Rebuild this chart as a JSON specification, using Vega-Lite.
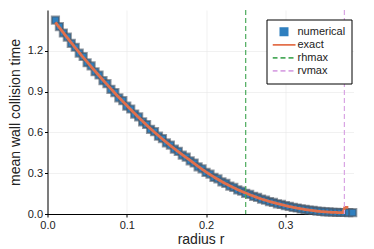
{
  "$schema": "https://vega.github.io/schema/vega-lite/v6.json",
  "width": 306,
  "height": 204,
  "autosize": {"type": "none"},
  "padding": {"left": 47.5, "top": 10, "right": 20.5, "bottom": 35},
  "background": "white",
  "config": {
    "view": {"stroke": null},
    "font": "Liberation Sans",
    "axis": {
      "domainColor": "black", "domainWidth": 1, "tickColor": "black", "tickSize": 3,
      "gridColor": "#e8e8e8", "gridWidth": 0.6, "labelFlush": false,
      "labelFont": "Liberation Sans", "labelFontSize": 11, "labelColor": "#222",
      "titleFont": "Liberation Sans", "titleFontSize": 14, "titleFontWeight": "normal", "titleColor": "#222"
    }
  },
  "datasets": {
    "num": [
      {"r":0.010,"t":1.425},{"r":0.015,"t":1.378},{"r":0.020,"t":1.331},{"r":0.025,"t":1.301},{"r":0.030,"t":1.255},
      {"r":0.035,"t":1.226},{"r":0.040,"t":1.183},{"r":0.045,"t":1.158},{"r":0.050,"t":1.112},{"r":0.055,"t":1.089},
      {"r":0.060,"t":1.046},{"r":0.065,"t":1.022},{"r":0.070,"t":0.980},{"r":0.075,"t":0.958},{"r":0.080,"t":0.917},
      {"r":0.085,"t":0.893},{"r":0.090,"t":0.854},{"r":0.095,"t":0.833},{"r":0.100,"t":0.793},{"r":0.105,"t":0.772},
      {"r":0.110,"t":0.735},{"r":0.115,"t":0.714},{"r":0.120,"t":0.678},{"r":0.125,"t":0.658},{"r":0.130,"t":0.623},
      {"r":0.135,"t":0.605},{"r":0.140,"t":0.572},{"r":0.145,"t":0.555},{"r":0.150,"t":0.523},{"r":0.155,"t":0.507},
      {"r":0.160,"t":0.477},{"r":0.165,"t":0.461},{"r":0.170,"t":0.433},{"r":0.175,"t":0.418},{"r":0.180,"t":0.391},
      {"r":0.185,"t":0.375},{"r":0.190,"t":0.347},{"r":0.195,"t":0.332},{"r":0.200,"t":0.306},{"r":0.205,"t":0.293},
      {"r":0.210,"t":0.269},{"r":0.215,"t":0.258},{"r":0.220,"t":0.236},{"r":0.225,"t":0.225},{"r":0.230,"t":0.205},
      {"r":0.235,"t":0.195},{"r":0.240,"t":0.177},{"r":0.245,"t":0.168},{"r":0.250,"t":0.152},{"r":0.255,"t":0.144},
      {"r":0.260,"t":0.130},{"r":0.265,"t":0.122},{"r":0.270,"t":0.109},{"r":0.275,"t":0.102},{"r":0.280,"t":0.091},
      {"r":0.285,"t":0.085},{"r":0.290,"t":0.075},{"r":0.295,"t":0.070},{"r":0.300,"t":0.061},{"r":0.305,"t":0.056},
      {"r":0.310,"t":0.048},{"r":0.315,"t":0.044},{"r":0.320,"t":0.037},{"r":0.325,"t":0.034},{"r":0.330,"t":0.028},
      {"r":0.335,"t":0.026},{"r":0.340,"t":0.021},{"r":0.345,"t":0.019},{"r":0.350,"t":0.016},{"r":0.355,"t":0.015},
      {"r":0.360,"t":0.013},{"r":0.365,"t":0.012},{"r":0.370,"t":0.011},{"r":0.375,"t":0.011},{"r":0.380,"t":0.010},
      {"r":0.385,"t":0.010}
    ],
    "exact": [
      {"r":0.010,"t":1.409},{"r":0.015,"t":1.371},{"r":0.020,"t":1.333},{"r":0.025,"t":1.296},{"r":0.030,"t":1.259},
      {"r":0.035,"t":1.223},{"r":0.040,"t":1.187},{"r":0.045,"t":1.152},{"r":0.050,"t":1.118},{"r":0.055,"t":1.084},
      {"r":0.060,"t":1.051},{"r":0.065,"t":1.018},{"r":0.070,"t":0.985},{"r":0.075,"t":0.953},{"r":0.080,"t":0.921},
      {"r":0.085,"t":0.889},{"r":0.090,"t":0.858},{"r":0.095,"t":0.828},{"r":0.100,"t":0.798},{"r":0.105,"t":0.768},
      {"r":0.110,"t":0.739},{"r":0.115,"t":0.710},{"r":0.120,"t":0.682},{"r":0.125,"t":0.654},{"r":0.130,"t":0.627},
      {"r":0.135,"t":0.601},{"r":0.140,"t":0.576},{"r":0.145,"t":0.551},{"r":0.150,"t":0.527},{"r":0.155,"t":0.503},
      {"r":0.160,"t":0.480},{"r":0.165,"t":0.458},{"r":0.170,"t":0.436},{"r":0.175,"t":0.415},{"r":0.180,"t":0.394},
      {"r":0.185,"t":0.372},{"r":0.190,"t":0.350},{"r":0.195,"t":0.329},{"r":0.200,"t":0.309},{"r":0.205,"t":0.290},
      {"r":0.210,"t":0.272},{"r":0.215,"t":0.255},{"r":0.220,"t":0.238},{"r":0.225,"t":0.222},{"r":0.230,"t":0.207},
      {"r":0.235,"t":0.193},{"r":0.240,"t":0.179},{"r":0.245,"t":0.166},{"r":0.250,"t":0.154},{"r":0.255,"t":0.142},
      {"r":0.260,"t":0.131},{"r":0.265,"t":0.120},{"r":0.270,"t":0.110},{"r":0.275,"t":0.101},{"r":0.280,"t":0.092},
      {"r":0.285,"t":0.084},{"r":0.290,"t":0.076},{"r":0.295,"t":0.069},{"r":0.300,"t":0.062},{"r":0.305,"t":0.055},
      {"r":0.310,"t":0.049},{"r":0.315,"t":0.043},{"r":0.320,"t":0.038},{"r":0.325,"t":0.033},{"r":0.330,"t":0.029},
      {"r":0.335,"t":0.025},{"r":0.340,"t":0.021},{"r":0.345,"t":0.018},{"r":0.350,"t":0.016},{"r":0.355,"t":0.014},
      {"r":0.360,"t":0.012},{"r":0.365,"t":0.011},{"r":0.370,"t":0.010},{"r":0.3725,"t":0.010},{"r":0.375,"t":0.048},
      {"r":0.3795,"t":0.048}
    ],
    "vlines": [
      {"r":0.25,"series":"rhmax"},
      {"r":0.3745,"series":"rvmax"}
    ]
  },
  "layer": [
    {
      "data": {"name": "num"},
      "mark": {"type": "line", "color": "#8cc8f0", "strokeWidth": 1},
      "encoding": {
        "x": {"field": "r", "type": "quantitative", "scale": {"domain": [0, 0.386], "nice": false, "zero": false},
              "axis": {"values": [0, 0.1, 0.2, 0.3], "format": ".1f", "title": "radius r", "labelPadding": 2, "titlePadding": 2}},
        "y": {"field": "t", "type": "quantitative", "scale": {"domain": [0, 1.5], "nice": false},
              "axis": {"values": [0, 0.3, 0.6, 0.9, 1.2], "format": ".1f", "title": "mean wall collision time", "labelPadding": 2, "titlePadding": 5}}
      }
    },
    {
      "data": {"name": "num"},
      "transform": [{"calculate": "'numerical'", "as": "series"}],
      "mark": {"type": "point", "filled": true, "stroke": "#4a5563", "strokeOpacity": 0.6, "opacity": 1},
      "encoding": {
        "x": {"field": "r", "type": "quantitative"},
        "y": {"field": "t", "type": "quantitative"},
        "color": {
          "field": "series", "type": "nominal",
          "scale": {"domain": ["numerical", "exact", "rhmax", "rvmax"], "range": ["#2f7fbf", "#e3704b", "#4caa5c", "#d9a4e4"]},
          "legend": {
            "orient": "none", "legendX": 219, "legendY": 9.5, "title": null,
            "fillColor": "white", "strokeColor": "black", "padding": 6, "rowPadding": 0,
            "clipHeight": 12.6, "symbolOffset": -1, "labelOffset": 1, "symbolStrokeWidth": 1.8,
            "labelFont": "Liberation Sans", "labelFontSize": 11, "labelColor": "#222"
          }
        },
        "shape": {
          "field": "series", "type": "nominal",
          "scale": {"domain": ["numerical", "exact", "rhmax", "rvmax"], "range": ["square", "stroke", "stroke", "stroke"]}
        },
        "size": {
          "field": "series", "type": "nominal",
          "scale": {"type": "ordinal", "domain": ["numerical", "exact", "rhmax", "rvmax"], "range": [52, 529, 529, 529]}
        }
      }
    },
    {
      "data": {"name": "exact"},
      "transform": [{"calculate": "'exact'", "as": "series"}],
      "mark": {"type": "line", "strokeWidth": 2.8},
      "encoding": {
        "x": {"field": "r", "type": "quantitative"},
        "y": {"field": "t", "type": "quantitative"},
        "color": {"field": "series", "type": "nominal"},
        "strokeDash": {
          "field": "series", "type": "nominal",
          "scale": {"domain": ["numerical", "exact", "rhmax", "rvmax"], "range": [[1, 0], [1, 0], [5, 3], [5, 3]]}
        }
      }
    },
    {
      "data": {"name": "vlines"},
      "mark": {"type": "rule", "strokeWidth": 1.2},
      "encoding": {
        "x": {"field": "r", "type": "quantitative"},
        "color": {"field": "series", "type": "nominal"},
        "strokeDash": {"field": "series", "type": "nominal"}
      }
    }
  ]
}
